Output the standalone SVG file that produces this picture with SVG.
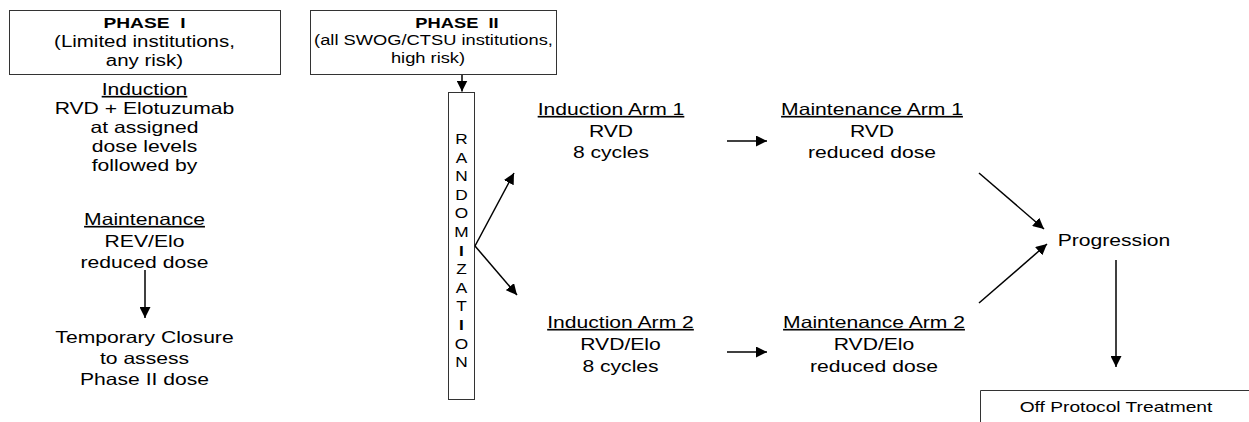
<svg xmlns="http://www.w3.org/2000/svg" width="1249" height="422" viewBox="0 0 1249 422">
<defs>
<marker id="ah" viewBox="0 0 12 12" refX="12" refY="6" markerWidth="11" markerHeight="11" markerUnits="userSpaceOnUse" orient="auto">
<path d="M0,0 L12,6 L0,12 z" fill="#000"/>
</marker>
<style>
text{font-family:"Liberation Sans",Arial,sans-serif;fill:#000;text-anchor:middle;white-space:pre}
.t{font-size:16.5px}
.s{font-size:16px}
.p2{font-size:15px}
.b{font-weight:bold;font-size:15px}
.u{text-decoration:underline}
.box{fill:#fff;stroke:#333;stroke-width:1}
.c{stroke:#000;stroke-width:1.5;fill:none;marker-end:url(#ah)}
.rl{font-size:15px}
</style>
</defs>
<rect width="1249" height="422" fill="#fff"/>

<g id="phase1">
<rect class="box" x="9.5" y="10.5" width="271" height="64"/>
<text class="b" transform="translate(144.5,28) scale(1.28,1)">PHASE  I</text>
<text class="s" transform="translate(144.5,46.7) scale(1.28,1)">(Limited institutions,</text>
<text class="s" transform="translate(144.5,66) scale(1.28,1)">any risk)</text>
</g>

<g id="phase1-induction">
<text class="t u" transform="translate(144.5,95) scale(1.28,1)">Induction</text>
<text class="t" transform="translate(144.5,114) scale(1.28,1)">RVD + Elotuzumab</text>
<text class="t" transform="translate(144.5,133) scale(1.28,1)">at assigned</text>
<text class="t" transform="translate(144.5,152) scale(1.28,1)">dose levels</text>
<text class="t" transform="translate(144.5,171) scale(1.28,1)">followed by</text>
</g>

<g id="phase1-maintenance">
<text class="t u" transform="translate(144.5,225) scale(1.28,1)">Maintenance</text>
<text class="t" transform="translate(144.5,246.5) scale(1.28,1)">REV/Elo</text>
<text class="t" transform="translate(144.5,268) scale(1.28,1)">reduced dose</text>
</g>

<g id="temporary-closure">
<text class="t" transform="translate(144.5,343) scale(1.28,1)">Temporary Closure</text>
<text class="t" transform="translate(144.5,364) scale(1.28,1)">to assess</text>
<text class="t" transform="translate(144.5,385) scale(1.28,1)">Phase II dose</text>
</g>

<g id="phase2">
<rect class="box" x="310.5" y="10.5" width="246" height="64"/>
<text class="b" transform="translate(457,28) scale(1.22,1)">PHASE  II</text>
<text class="p2" transform="translate(433.5,45) scale(1.22,1)">(all SWOG/CTSU institutions,</text>
<text class="p2" transform="translate(428,63) scale(1.22,1)">high risk)</text>
</g>

<g id="randomization">
<rect class="box" x="448.5" y="92.5" width="26" height="307"/>
<g transform="translate(461.5,0) scale(1.15,1)">
<text class="rl" x="0" y="144">R</text>
<text class="rl" x="0" y="162.6">A</text>
<text class="rl" x="0" y="181.2">N</text>
<text class="rl" x="0" y="199.8">D</text>
<text class="rl" x="0" y="218.4">O</text>
<text class="rl" x="0" y="237">M</text>
<text class="rl" x="0" y="255.6" font-weight="bold">I</text>
<text class="rl" x="0" y="274.2">Z</text>
<text class="rl" x="0" y="292.8">A</text>
<text class="rl" x="0" y="311.4">T</text>
<text class="rl" x="0" y="330" font-weight="bold">I</text>
<text class="rl" x="0" y="348.6">O</text>
<text class="rl" x="0" y="367.2">N</text>
</g>
</g>

<g id="induction-arm1">
<text class="t u" transform="translate(611,115) scale(1.28,1)">Induction Arm 1</text>
<text class="t" transform="translate(611,136.5) scale(1.28,1)">RVD</text>
<text class="t" transform="translate(611,158) scale(1.28,1)">8 cycles</text>
</g>

<g id="maintenance-arm1">
<text class="t u" transform="translate(872,115) scale(1.28,1)">Maintenance Arm 1</text>
<text class="t" transform="translate(872,136.5) scale(1.28,1)">RVD</text>
<text class="t" transform="translate(872,158) scale(1.28,1)">reduced dose</text>
</g>

<g id="induction-arm2">
<text class="t u" transform="translate(620.5,328) scale(1.28,1)">Induction Arm 2</text>
<text class="t" transform="translate(620.5,350) scale(1.28,1)">RVD/Elo</text>
<text class="t" transform="translate(620.5,371.5) scale(1.28,1)">8 cycles</text>
</g>

<g id="maintenance-arm2">
<text class="t u" transform="translate(874,328) scale(1.28,1)">Maintenance Arm 2</text>
<text class="t" transform="translate(874,350) scale(1.28,1)">RVD/Elo</text>
<text class="t" transform="translate(874,371.5) scale(1.28,1)">reduced dose</text>
</g>

<g id="progression">
<text class="t" transform="translate(1114,246) scale(1.28,1)">Progression</text>
</g>

<g id="off-protocol">
<path d="M980.5,430 V390.5 H1260" fill="none" stroke="#333" stroke-width="1"/>
<text class="rl" transform="translate(1116,412) scale(1.28,1)">Off Protocol Treatment</text>
</g>

<g id="connectors">
<line class="c" x1="145" y1="270" x2="145" y2="318"/>
<line class="c" x1="462" y1="75" x2="462" y2="91.5"/>
<line class="c" x1="475" y1="246" x2="514" y2="173"/>
<line class="c" x1="475" y1="246" x2="517" y2="295"/>
<line class="c" x1="727" y1="141" x2="767" y2="141"/>
<line class="c" x1="727" y1="352" x2="767" y2="352"/>
<line class="c" x1="979" y1="173" x2="1044" y2="229"/>
<line class="c" x1="979" y1="303" x2="1047" y2="244"/>
<line class="c" x1="1116" y1="260" x2="1116" y2="367"/>
</g>
</svg>
